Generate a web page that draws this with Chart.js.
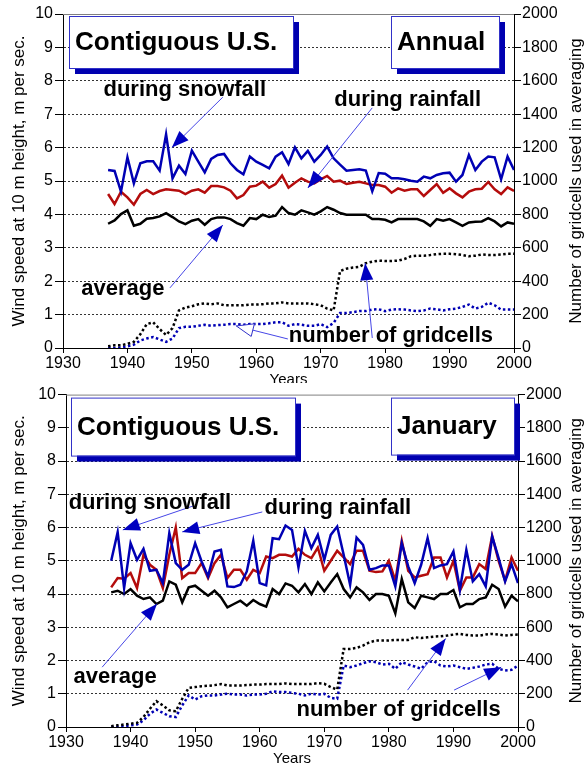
<!DOCTYPE html>
<html>
<head>
<meta charset="utf-8">
<script src="https://cdn.jsdelivr.net/npm/chart.js"></script>
<style>
  html, body { margin: 0; padding: 0; background: #fff; }
  #wrap { position: relative; width: 587px; height: 765px; }
  canvas { position: absolute; left: 0; }
</style>
</head>
<body>
<div id="wrap">
  <canvas id="annual" width="587" height="383" style="top:0"></canvas>
  <canvas id="january" width="587" height="382" style="top:383px"></canvas>
</div>
<script>
// Years on the x axis
const years = [1937, 1938, 1939, 1940, 1941, 1942, 1943, 1944, 1945, 1946,
  1947, 1948, 1949, 1950, 1951, 1952, 1953, 1954, 1955, 1956,
  1957, 1958, 1959, 1960, 1961, 1962, 1963, 1964, 1965, 1966,
  1967, 1968, 1969, 1970, 1971, 1972, 1973, 1974, 1975, 1976,
  1977, 1978, 1979, 1980, 1981, 1982, 1983, 1984, 1985, 1986,
  1987, 1988, 1989, 1990, 1991, 1992, 1993, 1994, 1995, 1996,
  1997, 1998, 1999, 2000];

const xTicks = [1930, 1940, 1950, 1960, 1970, 1980, 1990, 2000];

// Annual panel - wind speed, m/s
const annualSnow = [5.33, 5.30, 4.68, 5.71, 4.93, 5.53, 5.59, 5.59, 5.31, 6.40,
  5.08, 5.46, 5.21, 5.91, 5.58, 5.26, 5.66, 5.78, 5.81, 5.53,
  5.33, 5.20, 5.73, 5.58, 5.48, 5.38, 5.73, 5.86, 5.51, 6.01,
  5.68, 5.90, 5.58, 5.78, 6.03, 5.68, 5.49, 5.31, 5.33, 5.35,
  5.31, 4.69, 5.24, 5.22, 5.08, 5.08, 5.05, 5.01, 4.98, 5.13,
  5.08, 5.18, 5.23, 5.25, 4.98, 5.18, 5.78, 5.33, 5.58, 5.73,
  5.71, 5.05, 5.73, 5.33];
const annualRain = [4.61, 4.31, 4.68, 4.51, 4.29, 4.61, 4.73, 4.61, 4.70, 4.75,
  4.73, 4.71, 4.61, 4.71, 4.75, 4.65, 4.85, 4.85, 4.81, 4.71,
  4.48, 4.58, 4.83, 4.86, 4.98, 4.80, 4.91, 5.16, 4.80, 4.95,
  5.08, 4.98, 4.93, 5.05, 5.15, 4.98, 5.01, 4.91, 4.95, 4.98,
  4.93, 4.88, 4.88, 4.83, 4.65, 4.78, 4.71, 4.75, 4.75, 4.55,
  4.73, 4.91, 4.65, 4.78, 4.63, 4.51, 4.68, 4.75, 4.77, 4.97,
  4.75, 4.61, 4.81, 4.70];
const annualAvg = [3.72, 3.82, 4.01, 4.12, 3.66, 3.72, 3.87, 3.89, 3.94, 4.04,
  3.92, 3.79, 3.71, 3.81, 3.86, 3.69, 3.86, 3.91, 3.91, 3.86,
  3.74, 3.66, 3.89, 3.86, 3.99, 3.92, 3.96, 4.22, 4.04, 3.99,
  4.12, 4.06, 3.99, 4.09, 4.22, 4.14, 4.04, 3.99, 3.99, 3.99,
  3.99, 3.86, 3.86, 3.84, 3.76, 3.86, 3.86, 3.86, 3.86, 3.79,
  3.66, 3.86, 3.81, 3.86, 3.76, 3.66, 3.76, 3.78, 3.79, 3.89,
  3.79, 3.64, 3.76, 3.72];
// Annual panel - number of gridcells (right axis)
const annualCellsBlack = [10, 16, 16, 25, 37, 82, 143, 154, 113, 78,
  119, 225, 242, 250, 262, 267, 262, 267, 256, 256,
  256, 256, 260, 260, 262, 267, 267, 273, 267, 267,
  267, 267, 262, 256, 236, 225, 461, 475, 482, 486,
  508, 517, 523, 521, 521, 523, 533, 549, 553, 553,
  557, 562, 564, 564, 562, 557, 549, 553, 560, 557,
  557, 560, 564, 564];
const annualCellsBlue = [0, 0, 4, 10, 20, 45, 57, 66, 51, 37,
  57, 119, 127, 127, 133, 139, 133, 137, 139, 143,
  143, 139, 143, 143, 143, 148, 154, 154, 133, 143,
  139, 133, 133, 143, 125, 150, 209, 209, 215, 221,
  221, 230, 232, 221, 230, 232, 230, 225, 221, 225,
  236, 232, 225, 232, 236, 246, 260, 236, 246, 271,
  256, 230, 230, 230];

// January panel - wind speed, m/s
const janSnow = [5.00, 5.86, 4.18, 5.53, 5.03, 5.36, 4.70, 4.73, 4.33, 5.83,
  4.93, 4.73, 4.88, 5.53, 4.98, 4.53, 5.28, 5.33, 4.23, 4.21,
  4.28, 4.68, 5.60, 4.33, 4.26, 5.68, 5.65, 6.06, 5.93, 4.80,
  5.90, 5.38, 5.78, 5.03, 5.78, 6.03, 5.18, 4.28, 5.70, 5.48,
  4.73, 4.78, 4.86, 4.86, 4.23, 5.53, 4.83, 4.33, 4.88, 5.68,
  4.78, 4.86, 4.90, 5.28, 4.13, 5.33, 4.38, 4.60, 4.23, 5.73,
  5.08, 4.38, 4.90, 4.33];
const janRain = [4.20, 4.48, 4.46, 4.63, 4.18, 5.18, 4.88, 4.73, 4.18, 5.18,
  6.00, 4.48, 4.63, 4.63, 4.93, 4.48, 4.93, 5.18, 4.48, 4.73,
  4.73, 4.43, 4.73, 4.63, 5.13, 5.08, 5.18, 5.18, 5.13, 5.36,
  5.18, 5.08, 5.40, 4.70, 5.00, 5.30, 5.10, 4.90, 5.30, 5.30,
  4.70, 4.66, 4.68, 5.00, 4.40, 5.60, 4.70, 4.50, 4.55, 4.60,
  5.10, 5.10, 4.50, 5.00, 4.10, 4.50, 4.50, 4.90, 4.75, 5.75,
  5.00, 4.40, 5.10, 4.70];
const janAvg = [4.05, 4.10, 4.00, 4.15, 3.95, 3.85, 3.90, 3.70, 3.80, 4.38,
  4.28, 3.75, 4.20, 4.25, 4.10, 3.95, 4.10, 3.90, 3.60, 3.70,
  3.80, 3.65, 3.82, 3.70, 3.62, 4.15, 4.00, 4.32, 4.25, 4.05,
  4.30, 4.00, 4.35, 4.08, 4.35, 4.60, 4.15, 3.90, 4.20, 4.05,
  3.82, 4.00, 4.00, 3.95, 3.42, 4.45, 3.75, 3.58, 3.95, 3.90,
  3.85, 4.00, 4.00, 4.12, 3.60, 3.70, 3.70, 3.85, 3.90, 4.28,
  4.15, 3.62, 3.95, 3.78];
// January panel - number of gridcells (right axis)
const janCellsBlack = [5, 10, 15, 20, 25, 60, 110, 155, 130, 100,
  95, 170, 235, 240, 245, 248, 252, 258, 250, 250,
  250, 252, 255, 255, 258, 258, 258, 262, 258, 258,
  258, 258, 264, 260, 240, 225, 470, 470, 476, 490,
  510, 520, 520, 520, 524, 524, 524, 540, 536, 540,
  544, 546, 550, 556, 560, 554, 550, 550, 556, 560,
  556, 550, 554, 556];
const janCellsBlue = [0, 0, 5, 10, 15, 40, 80, 105, 85, 65,
  60, 130, 190, 165, 185, 190, 190, 195, 200, 195,
  195, 190, 195, 195, 200, 215, 210, 210, 205, 200,
  190, 200, 195, 200, 175, 170, 370, 360, 370, 384,
  396, 390, 376, 380, 350, 390, 376, 364, 350, 390,
  396, 370, 364, 370, 360, 350, 356, 364, 376, 380,
  350, 340, 344, 370];

const BLUE = '#0000b4';
const RED = '#b40c0c';
const FONT = '"Liberation Sans", Arial, sans-serif';

function pts(vals) {
    return years.map((yr, i) => ({ x: yr, y: vals[i] }));
}

function arrow(ctx, x0, y0, x1, y1, hollow) {
    ctx.strokeStyle = '#4646e6';
    ctx.lineWidth = 1;
    ctx.setLineDash([]);
    ctx.beginPath();
    ctx.moveTo(x0, y0);
    ctx.lineTo(x1, y1);
    ctx.stroke();
    const ang = Math.atan2(y1 - y0, x1 - x0);
    const L = 17, W = 6.5;
    const bx = x1 - L * Math.cos(ang), by = y1 - L * Math.sin(ang);
    const px = -Math.sin(ang) * W, py = Math.cos(ang) * W;
    ctx.beginPath();
    ctx.moveTo(x1, y1);
    ctx.lineTo(bx + px, by + py);
    ctx.lineTo(bx - px, by - py);
    ctx.closePath();
    if (hollow) {
        ctx.fillStyle = '#fff';
        ctx.fill();
        ctx.strokeStyle = '#3030c8';
        ctx.stroke();
    } else {
        ctx.fillStyle = '#0000c0';
        ctx.fill();
    }
}

// Draws frame, title boxes, arrows, labels and axis titles
const annotate = {
    id: 'annotate',
    afterDraw(chart, args, opts) {
        const { ctx, chartArea: a, scales: { x, y } } = chart;
        ctx.save();

        ctx.strokeStyle = '#808080';
        ctx.lineWidth = 1;
        ctx.beginPath();
        ctx.moveTo(a.left, a.top + 0.5);
        ctx.lineTo(a.right, a.top + 0.5);
        ctx.stroke();

        opts.boxes.forEach(b => {
            const bx = a.left + b.dx, by = a.top + b.dy;
            ctx.fillStyle = '#0000b0';
            ctx.fillRect(bx + 6, by + 6, b.w, b.h);
            ctx.fillStyle = '#fff';
            ctx.fillRect(bx, by, b.w, b.h);
            ctx.strokeStyle = '#3232c8';
            ctx.strokeRect(bx + 0.5, by + 0.5, b.w, b.h);
            ctx.fillStyle = '#000';
            ctx.font = 'bold 26px ' + FONT;
            ctx.textAlign = 'left';
            ctx.textBaseline = 'middle';
            ctx.fillText(b.text, bx + 6, by + b.h / 2 + 1);
        });

        opts.arrows.forEach(r => {
            arrow(ctx, x.getPixelForValue(r.from[0]), y.getPixelForValue(r.from[1]),
                x.getPixelForValue(r.to[0]), y.getPixelForValue(r.to[1]), r.hollow);
        });

        ctx.fillStyle = '#000';
        ctx.font = 'bold 22px ' + FONT;
        ctx.textAlign = 'center';
        ctx.textBaseline = 'middle';
        opts.labels.forEach(l => {
            ctx.fillText(l.text, x.getPixelForValue(l.at[0]), y.getPixelForValue(l.at[1]));
        });

        // axis titles
        const cy = (a.top + a.bottom) / 2;
        ctx.font = '17px ' + FONT;
        ctx.save();
        ctx.translate(19, cy);
        ctx.rotate(-Math.PI / 2);
        ctx.fillText('Wind speed at 10 m height, m per sec.', 0, 0);
        ctx.restore();
        ctx.save();
        ctx.translate(576, cy);
        ctx.rotate(-Math.PI / 2);
        ctx.fillText('Number of gridcells used in averaging', 0, 0);
        ctx.restore();
        ctx.font = '15px ' + FONT;
        ctx.fillText('Years', (a.left + a.right) / 2, a.bottom + 32);

        ctx.restore();
    }
};

function makeChart(id, series, geo, notes) {
    const ctx = document.getElementById(id).getContext('2d');
    return new Chart(ctx, {
        type: 'line',
        data: {
            datasets: [
                { data: pts(series.snow), borderColor: BLUE, borderWidth: 2.5, order: 0 },
                { data: pts(series.rain), borderColor: RED, borderWidth: 2.5, order: 1 },
                { data: pts(series.avg), borderColor: '#000', borderWidth: 2.5, order: 2 },
                { data: pts(series.cellsBlack), borderColor: '#000', borderWidth: 2.5,
                  borderDash: [2.5, 2.5], yAxisID: 'y2', order: 3 },
                { data: pts(series.cellsBlue), borderColor: BLUE, borderWidth: 2.5,
                  borderDash: [2.5, 2.5], yAxisID: 'y2', order: 4 }
            ]
        },
        options: {
            responsive: false,
            animation: false,
            devicePixelRatio: 1,
            layout: { padding: { top: geo.top, left: 0, right: 0, bottom: 0 } },
            elements: { point: { radius: 0 }, line: { tension: 0, borderCapStyle: 'butt' } },
            plugins: {
                legend: { display: false },
                tooltip: { enabled: false },
                annotate: notes
            },
            scales: {
                x: {
                    type: 'linear',
                    min: 1930, max: 2000,
                    afterBuildTicks: s => { s.ticks = xTicks.map(v => ({ value: v })); },
                    afterFit: s => { s.height = geo.xh; },
                    grid: { drawOnChartArea: false, tickLength: 5, tickColor: '#000' },
                    border: { color: '#000', width: 1 },
                    ticks: { color: '#000', padding: 1, font: { family: FONT, size: 16 },
                             maxRotation: 0, callback: v => String(v) }
                },
                y: {
                    position: 'left',
                    min: 0, max: 10,
                    afterFit: s => { s.width = geo.left; },
                    grid: {
                        color: c => (c.tick && c.tick.value > 0 && c.tick.value < 10) ? '#333' : 'rgba(0,0,0,0)',
                        tickColor: '#000', tickLength: 8, tickBorderDash: [], lineWidth: 1
                    },
                    border: { color: '#000', width: 1, dash: [2, 2] },
                    ticks: { stepSize: 1, color: '#000', padding: 2, font: { family: FONT, size: 16 } }
                },
                y2: {
                    position: 'right',
                    min: 0, max: 2000,
                    afterFit: s => { s.width = geo.right; },
                    grid: { drawOnChartArea: false, tickColor: '#000', tickLength: 7 },
                    border: { color: '#000', width: 1 },
                    ticks: { stepSize: 200, color: '#000', padding: 1, font: { family: FONT, size: 16 },
                             callback: v => String(v) }
                }
            }
        },
        plugins: [annotate]
    });
}

makeChart('annual',
    { snow: annualSnow, rain: annualRain, avg: annualAvg,
      cellsBlack: annualCellsBlack, cellsBlue: annualCellsBlue },
    { top: 14, xh: 35, left: 63, right: 73 },
    {
        boxes: [
            { text: 'Contiguous U.S.', dx: 6, dy: 2, w: 224, h: 52 },
            { text: 'Annual', dx: 328, dy: 2, w: 108, h: 52 }
        ],
        labels: [
            { text: 'during snowfall', at: [1948.9, 7.72] },
            { text: 'during rainfall', at: [1983.5, 7.43] },
            { text: 'average', at: [1939.3, 1.77] },
            { text: 'number of gridcells', at: [1980.9, 0.36] }
        ],
        arrows: [
            { from: [1954.8, 7.51], to: [1946.9, 6.0] },
            { from: [1978.0, 7.19], to: [1968.0, 4.79] },
            { from: [1946.6, 1.80], to: [1954.8, 3.68] },
            { from: [1964.9, 0.27], to: [1956.9, 0.66], hollow: true },
            { from: [1978.0, 0.30], to: [1976.9, 2.54] }
        ]
    });

makeChart('january',
    { snow: janSnow, rain: janRain, avg: janAvg,
      cellsBlack: janCellsBlack, cellsBlue: janCellsBlue },
    { top: 10, xh: 38, left: 66, right: 69 },
    {
        boxes: [
            { text: 'Contiguous U.S.', dx: 5, dy: 3, w: 224, h: 58 },
            { text: 'January', dx: 325, dy: 3, w: 123, h: 57 }
        ],
        labels: [
            { text: 'during snowfall', at: [1943.0, 6.74] },
            { text: 'during rainfall', at: [1972.1, 6.59] },
            { text: 'average', at: [1937.6, 1.50] },
            { text: 'number of gridcells', at: [1981.5, 0.51] }
        ],
        arrows: [
            { from: [1949.7, 6.65], to: [1938.8, 5.93] },
            { from: [1960.4, 6.47], to: [1948.0, 5.87] },
            { from: [1935.6, 1.80], to: [1944.1, 3.71] },
            { from: [1982.9, 1.11], to: [1988.8, 2.66] },
            { from: [1990.1, 1.11], to: [1997.4, 1.80] }
        ]
    });
</script>
</body>
</html>
